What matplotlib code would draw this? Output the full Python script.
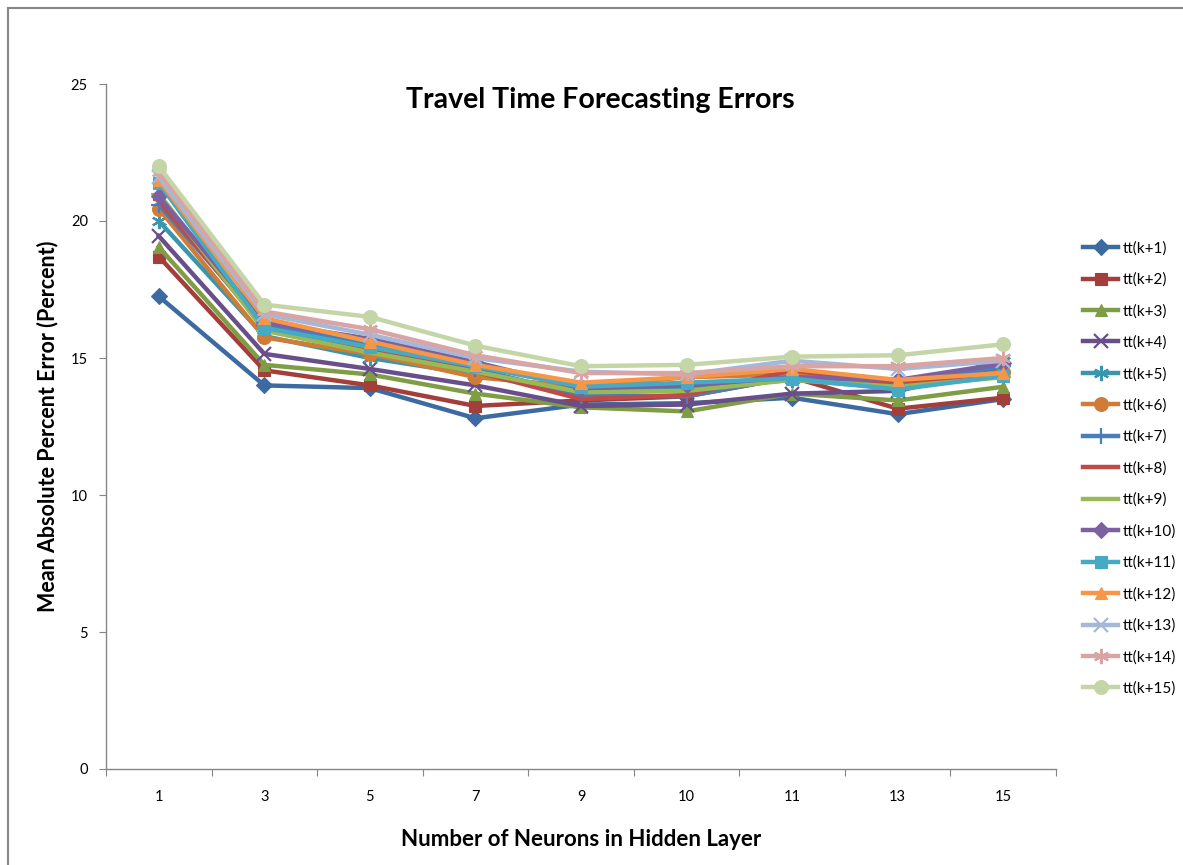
import matplotlib
matplotlib.use("Agg")
import matplotlib.pyplot as plt
from matplotlib.patches import Rectangle

plt.rcParams['font.family'] = ['Lato', 'DejaVu Sans']

categories = ["1", "3", "5", "7", "9", "10", "11", "13", "15"]
series_names = [f"tt(k+{i})" for i in range(1, 16)]

tt1 = [17.25, 14.0, 13.9, 12.8, 13.3, 13.35, 13.55, 12.95, 13.5]
tt2 = [18.7, 14.55, 14.0, 13.25, 13.45, 13.6, 14.3, 13.15, 13.55]
tt3 = [19.05, 14.75, 14.4, 13.7, 13.2, 13.05, 13.7, 13.45, 13.95]
tt4 = [19.45, 15.15, 14.6, 14.0, 13.25, 13.3, 13.7, 13.8, 14.65]
tt5 = [20.0, 15.8, 15.0, 14.4, 13.8, 13.9, 14.2, 13.9, 14.9]
tt6 = [20.45, 15.75, 15.15, 14.3, 13.95, 14.3, 14.4, 14.05, 14.5]
tt7 = [20.6, 16.2, 15.5, 14.6, 13.65, 13.6, 14.3, 14.0, 14.7]
tt8 = [20.75, 16.1, 15.3, 14.5, 13.5, 13.65, 14.55, 14.05, 14.4]
tt9 = [21.0, 16.0, 15.2, 14.5, 13.75, 13.8, 14.2, 13.95, 14.3]
tt10 = [20.9, 16.3, 15.7, 14.85, 13.9, 14.0, 14.3, 14.2, 14.8]
tt11 = [21.4, 16.1, 15.4, 14.7, 13.95, 14.1, 14.25, 13.85, 14.35]
tt12 = [21.5, 16.45, 15.6, 14.75, 14.1, 14.3, 14.6, 14.2, 14.45]
tt13 = [21.6, 16.6, 15.85, 15.0, 14.5, 14.4, 14.9, 14.6, 14.9]
tt14 = [21.8, 16.7, 16.05, 15.1, 14.45, 14.45, 14.7, 14.7, 15.0]
tt15 = [22.0, 16.95, 16.5, 15.45, 14.7, 14.75, 15.05, 15.1, 15.5]

all_series = [tt1, tt2, tt3, tt4, tt5, tt6, tt7, tt8, tt9, tt10,
              tt11, tt12, tt13, tt14, tt15]

colors = ["#3D6BA1", "#A33E3B", "#7F9D45", "#684F8A", "#3A96AE", "#D07C36",
          "#4A7EBB", "#BE4B48", "#98B954", "#7D60A0", "#46AAC5", "#F79646",
          "#A5B8DA", "#D9A5A4", "#C4D6A8"]
markers = ["D", "s", "^", "x", (6, 2, 0), "o", "+", "_", "_", "D", "s", "^",
           "x", (6, 2, 0), "o"]
msizes = [8, 9, 9, 10, 11, 10, 11, 9, 11, 8, 9, 9, 10, 11, 10]

fig = plt.figure(figsize=(11.83, 8.65), dpi=100)
fig.patches.append(Rectangle((8 / 1183, -0.1), 1.2, 1.1 - 8 / 865,
                             transform=fig.transFigure, fill=False,
                             edgecolor="#868686", linewidth=1.5))

ax = fig.add_axes([106 / 1183, 1 - 769 / 865, 950 / 1183, (769 - 84) / 865])

xs = [i + 0.5 for i in range(len(categories))]
for name, vals, c, m, ms in zip(series_names, all_series, colors, markers, msizes):
    mew = 1.6 if m in ("x", "+", "_") or isinstance(m, tuple) else 0.8
    ax.plot(xs, vals, color=c, linewidth=3.2, marker=m, markersize=ms,
            markerfacecolor=c, markeredgecolor=c, markeredgewidth=mew,
            label=name, solid_joinstyle="round")

ax.set_xlim(0, len(categories))
ax.set_ylim(0, 25)
ax.set_xticks(range(len(categories) + 1))
ax.set_xticklabels([])
ax.set_xticks(xs, minor=True)
ax.set_xticklabels(categories, minor=True)
ax.tick_params(axis="x", which="minor", length=0, pad=15, labelsize=10.5)
ax.tick_params(axis="x", which="major", length=5, color="#868686", direction="out")
ax.set_yticks([0, 5, 10, 15, 20, 25])
ax.tick_params(axis="y", length=5, color="#868686", direction="out", pad=8,
               labelsize=10.5)
for s in ("top", "right"):
    ax.spines[s].set_visible(False)
for s in ("left", "bottom"):
    ax.spines[s].set_color("#868686")
    ax.spines[s].set_linewidth(1.0)

ax.set_xlabel("Number of Neurons in Hidden Layer", fontsize=16, fontweight="bold",
              labelpad=18)
ax.set_ylabel("Mean Absolute Percent Error (Percent)", fontsize=15.5,
              fontweight="bold", labelpad=9)
fig.text(600 / 1183, 1 - 100 / 865, "Travel Time Forecasting Errors",
         ha="center", va="center", fontsize=20.5, fontweight="bold")

handles, labels = ax.get_legend_handles_labels()
fig.legend(handles, labels, loc="upper left",
           bbox_to_anchor=(1077 / 1183, 1 - 235 / 865), frameon=False,
           fontsize=11, handlelength=2.3, handletextpad=0.3,
           labelspacing=1.12, borderaxespad=0)

fig.savefig("out.png", dpi=100)
